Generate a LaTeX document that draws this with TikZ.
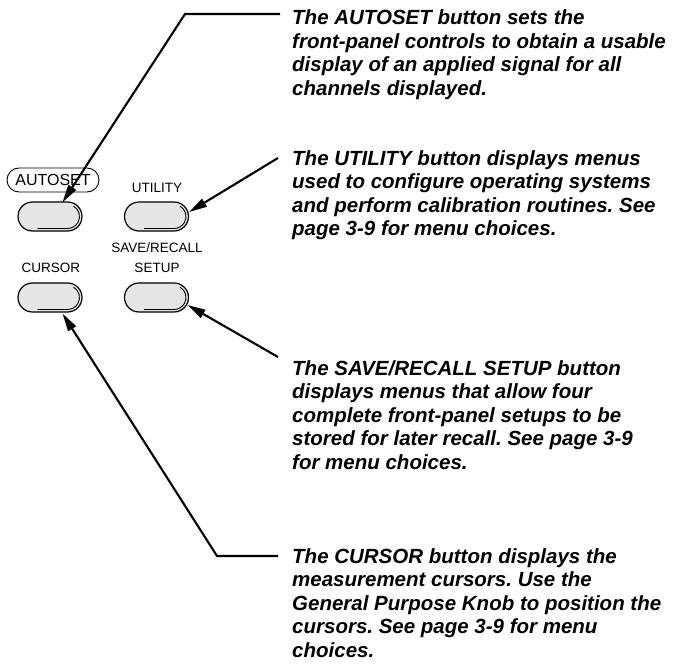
\documentclass[tikz,border=0pt]{standalone}
\usepackage{fontspec}
\setmainfont{Liberation Sans}
\usetikzlibrary{arrows.meta,shapes.misc}
\frenchspacing

\begin{document}
\begin{tikzpicture}[x=1pt,y=1pt,
  btn/.style={rounded rectangle,draw,line width=1.2pt,fill=gray!20,minimum width=64pt,minimum height=29pt,inner sep=0pt,
    path picture={\draw[line width=0.9pt] ([xshift=-8.5pt,yshift=10.4pt]path picture bounding box.east)
      arc[start angle=60,end angle=-90,radius=12pt] -- ++(-30pt,0);}},
  lbl/.style={font=\fontsize{13.5}{15}\selectfont,inner sep=0pt},
  note/.style={anchor=north west,align=left,inner sep=0pt,font=\fontsize{20.5}{23.5}\selectfont\bfseries\itshape},
  conn/.style={line width=2.1pt,-{Triangle[length=18pt,width=9pt]}}]
\useasboundingbox (0,0) rectangle (692,665);

% buttons and their labels
\node[btn] (autoset-btn) at (50,448.5) {};
\node[btn] (util-btn) at (156.5,448.5) {};
\node[btn] (cursor-btn) at (50,367.5) {};
\node[btn] (setup-btn) at (156.5,367.5) {};

\node[rounded rectangle,draw,line width=0.9pt,minimum width=92pt,minimum height=24pt,inner sep=0pt,
  font=\fontsize{16}{18}\selectfont] (autoset-lbl) at (53,485) {AUTOSET};
\node[lbl] (util-lbl) at (157,477) {UTILITY};
\node[lbl] (save-lbl) at (157,417) {SAVE/RECALL};
\node[lbl] (setup-lbl) at (157,397) {SETUP};
\node[lbl] (cursor-lbl) at (51,397) {CURSOR};

% explanations
\node[note] (autoset-txt) at (292,655.5) {The AUTOSET button sets the\\front-panel controls to obtain a usable\\display of an applied signal for all\\channels displayed.};
\node[note] (util-txt) at (292,515) {The UTILITY button displays menus\\used to configure operating systems\\and perform calibration routines. See\\page 3-9 for menu choices.};
\node[note] (setup-txt) at (292,305) {The SAVE/RECALL SETUP button\\displays menus that allow four\\complete front-panel setups to be\\stored for later recall. See page 3-9\\for menu choices.};
\node[note] (cursor-txt) at (292,117) {The CURSOR button displays the\\measurement cursors. Use the\\General Purpose Knob to position the\\cursors. See page 3-9 for menu\\choices.};

\coordinate (autoset-end) at ([xshift=-12pt,yshift=-4.5pt]autoset-txt.north west);
\coordinate (util-end) at ([xshift=-14pt,yshift=-8pt]util-txt.north west);
\coordinate (setup-end) at ([xshift=-14pt,yshift=3pt]setup-txt.north west);
\coordinate (cursor-end) at ([xshift=-14pt,yshift=-8pt]cursor-txt.north west);

\draw[conn] (autoset-end) -- ++(-95,0) -- ([xshift=-5pt,yshift=-1pt]autoset-btn.north east);
\draw[conn] (util-end) -- ([yshift=4.5pt]util-btn.east);
\draw[conn] (setup-end) -- ([xshift=-1.5pt,yshift=-7.5pt]setup-btn.east);
\draw[conn] (cursor-end) -- ++(-61,0) -- ([xshift=-5pt,yshift=-1pt]cursor-btn.south east);
\end{tikzpicture}
\end{document}
